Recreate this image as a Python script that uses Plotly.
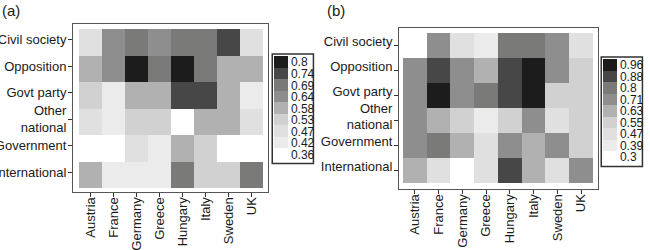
import plotly.graph_objects as go

countries = ["Austria", "France", "Germany", "Greece", "Hungary", "Italy", "Sweden", "UK"]
actors = ["Civil society", "Opposition", "Govt party", "Other<br>national", "Government", "International"]

# Panel (a) values (rows = actors top->bottom, cols = countries)
values_a = [
    [0.47, 0.64, 0.69, 0.64, 0.69, 0.69, 0.74, 0.47],
    [0.58, 0.64, 0.80, 0.69, 0.80, 0.69, 0.58, 0.58],
    [0.53, 0.42, 0.58, 0.58, 0.74, 0.74, 0.58, 0.42],
    [0.47, 0.42, 0.53, 0.53, 0.36, 0.58, 0.58, 0.47],
    [0.36, 0.36, 0.47, 0.42, 0.58, 0.53, 0.36, 0.36],
    [0.58, 0.42, 0.42, 0.42, 0.69, 0.53, 0.53, 0.69],
]
legend_a = ["0.36", "0.42", "0.47", "0.53", "0.58", "0.64", "0.69", "0.74", "0.8"]

# Panel (b) values
values_b = [
    [0.30, 0.71, 0.47, 0.39, 0.80, 0.80, 0.71, 0.47],
    [0.71, 0.88, 0.71, 0.63, 0.88, 0.96, 0.71, 0.55],
    [0.71, 0.96, 0.71, 0.80, 0.88, 0.96, 0.55, 0.55],
    [0.71, 0.63, 0.55, 0.39, 0.55, 0.71, 0.47, 0.55],
    [0.71, 0.80, 0.63, 0.47, 0.71, 0.63, 0.71, 0.55],
    [0.63, 0.47, 0.30, 0.47, 0.88, 0.63, 0.47, 0.71],
]
legend_b = ["0.3", "0.39", "0.47", "0.55", "0.63", "0.71", "0.8", "0.88", "0.96"]

greys = ["#ffffff", "#ebebeb", "#e0e0e0", "#d0d1d0", "#b0b1b0",
         "#8d8e8d", "#7a7a79", "#474747", "#1c1c1c"]


def discrete_scale(colors):
    n = len(colors)
    scale = []
    for i, c in enumerate(colors):
        scale.append([i / n, c])
        scale.append([(i + 1) / n, c])
    return scale


def bins(labels):
    vals = [float(v) for v in labels]
    step = (vals[-1] - vals[0]) / (len(vals) - 1)
    return vals[0] - step / 2, vals[-1] + step / 2, [vals[0] + i * step for i in range(len(vals))]


FONT = "Liberation Sans, Arial, sans-serif"
TXT = "#1a1a1a"

fig = go.Figure()

specs = [
    dict(z=values_a, labels=legend_a, xa="x", ya="y", cbx=273, cby=108.5),
    dict(z=values_b, labels=legend_b, xa="x2", ya="y2", cbx=602, cby=111),
]
for s in specs:
    zmin, zmax, centers = bins(s["labels"])
    fig.add_trace(go.Heatmap(
        z=s["z"], x=list(range(len(countries))), y=list(range(len(actors))),
        xaxis=s["xa"], yaxis=s["ya"],
        zmin=zmin, zmax=zmax, colorscale=discrete_scale(greys),
        xgap=0, ygap=0, hoverinfo="skip",
        colorbar=dict(
            x=s["cbx"] / 650, xanchor="left", xref="paper",
            y=1 - s["cby"] / 250, yanchor="middle", yref="paper",
            thickness=14, thicknessmode="pixels",
            len=108, lenmode="pixels",
            tickvals=centers, ticktext=s["labels"],
            ticks="", ticklen=0,
            tickfont=dict(family=FONT, size=12, color=TXT),
            outlinewidth=0, borderwidth=1.5, bordercolor="#333333",
            xpad=1, ypad=2, bgcolor="white",
        ),
    ))

axis_common = dict(showline=True, mirror=True, linecolor="#555555", linewidth=1,
                   showgrid=False, zeroline=False,
                   tickfont=dict(family=FONT, size=13, color=TXT))
tick_style = dict(ticks="outside", ticklen=4, tickcolor="#333333", tickwidth=1)

rows = list(range(len(actors)))

fig.update_layout(
    width=650, height=250,
    margin=dict(l=0, r=0, t=0, b=0, autoexpand=False),
    paper_bgcolor="white", plot_bgcolor="white",
    showlegend=False,
    xaxis=dict(domain=[73 / 650, 268 / 650], range=[-0.761, 7.717], automargin=False,
               tickvals=list(range(8)), ticktext=countries, tickangle=-90,
               ticklabelstandoff=-5, **tick_style, **axis_common),
    yaxis=dict(domain=[1 - 192 / 250, 1 - 24 / 250], range=[5.651, -0.689], automargin=False,
               tickvals=[r - 0.1 for r in rows], ticktext=actors, ticklabelstandoff=-1,
               **tick_style, **axis_common),
    xaxis2=dict(domain=[399 / 650, 598 / 650], range=[-0.668, 7.71], anchor="y2", automargin=False,
                tickvals=list(range(8)), ticktext=countries, tickangle=-90,
                ticklabelstandoff=-5, **tick_style, **axis_common),
    yaxis2=dict(domain=[1 - 189 / 250, 1 - 28 / 250], range=[5.74, -0.7], anchor="x2", automargin=False,
                tickvals=[r - 0.16 for r in rows], ticktext=actors, ticklabelstandoff=-1,
                ticks="outside", ticklen=4, tickcolor="rgba(0,0,0,0)",
                minor=dict(tickvals=rows, ticks="outside", ticklen=4,
                           tickcolor="#333333", tickwidth=1, showgrid=False),
                **axis_common),
    annotations=[
        dict(text="(a)", x=0, y=1, xref="paper", yref="paper", xanchor="left", yanchor="top",
             showarrow=False, font=dict(family=FONT, size=15, color=TXT)),
        dict(text="(b)", x=325 / 650, y=1, xref="paper", yref="paper", xanchor="left", yanchor="top",
             showarrow=False, font=dict(family=FONT, size=15, color=TXT)),
    ],
)

fig.write_html("out.html", config={"displayModeBar": False},
               post_script="document.body.style.margin='0';document.body.style.overflow='hidden';")
